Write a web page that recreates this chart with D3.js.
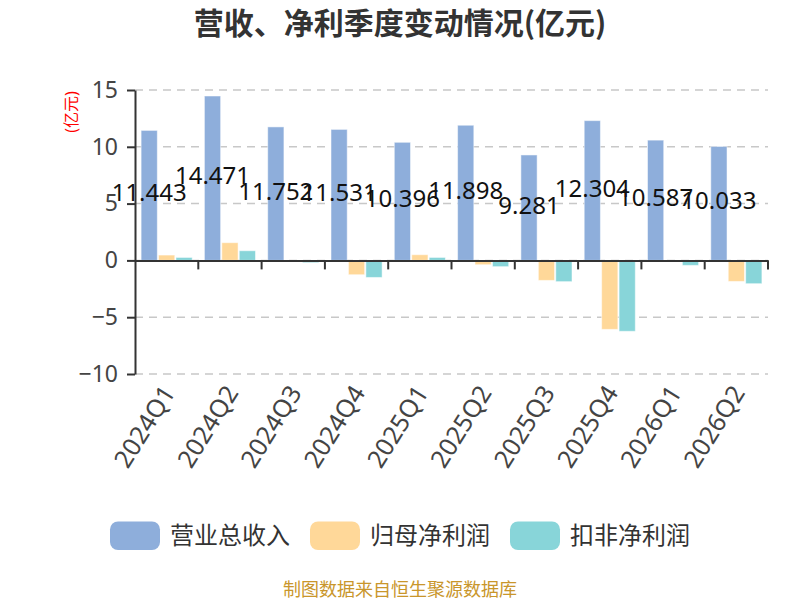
<!DOCTYPE html>
<html><head><meta charset="utf-8">
<script src="https://cdn.jsdelivr.net/npm/d3@7/dist/d3.min.js"></script>
<style>body{margin:0;background:#fff;}svg{display:block;font-family:"Noto Sans","Noto Sans CJK SC",sans-serif;}</style>
</head><body>
<svg id="c" width="800" height="600"></svg>
<script>
const categories = ["2024Q1","2024Q2","2024Q3","2024Q4","2025Q1","2025Q2","2025Q3","2025Q4","2026Q1","2026Q2"];
const seriesNames = ["营业总收入","归母净利润","扣非净利润"];
const revenue = [11.443,14.471,11.752,11.531,10.396,11.898,9.281,12.304,10.587,10.033];
const netProfit = [0.47,1.56,-0.05,-1.26,0.50,-0.38,-1.76,-6.07,-0.03,-1.85];
const deductedProfit = [0.26,0.85,-0.20,-1.50,0.26,-0.55,-1.87,-6.24,-0.44,-2.05];
const yTicks = [-10,-5,0,5,10,15];
const colors = ["#8eaedb","#ffd899","#88d5d9"];
const title = "营收、净利季度变动情况(亿元)";
const yName = "(亿元)";
const footer = "制图数据来自恒生聚源数据库";

const seriesData = [revenue, netProfit, deductedProfit];
const svg = d3.select("#c");
const pLeft = 135, pRight = 768, pTop = 90, pBottom = 374;

const x = d3.scaleBand().domain(categories).range([pLeft, pRight]).padding(0);
const xs = d3.scaleBand().domain(seriesNames).range([6.1, x.bandwidth() - 6.1]).paddingInner(0.07).paddingOuter(0);
const y = d3.scaleLinear().domain([-10, 15]).range([pBottom, pTop]);

// title
svg.append("text").attr("x", 400).attr("y", 34).attr("text-anchor", "middle")
  .attr("font-size", 30).attr("font-weight", "bold").attr("fill", "#333")
  .attr("font-family", "'Noto Sans CJK SC',sans-serif").text(title);

// grid
svg.append("g").selectAll("line").data(yTicks).join("line")
  .attr("x1", pLeft).attr("x2", pRight).attr("y1", d => y(d)).attr("y2", d => y(d))
  .attr("stroke", "#c8c8c8").attr("stroke-width", 1.5).attr("stroke-dasharray", "8,6");

// y axis
const yAxis = svg.append("g").attr("transform", `translate(${pLeft},0)`)
  .call(d3.axisLeft(y).tickValues(yTicks).tickSize(8).tickPadding(9).tickSizeOuter(0).tickFormat(d3.format("d")));
yAxis.select(".domain").attr("stroke", "#333").attr("stroke-width", 2);
yAxis.selectAll(".tick line").attr("stroke", "#333").attr("stroke-width", 2);
yAxis.selectAll(".tick text").attr("font-size", 23).attr("fill", "#444")
  .attr("font-family", "'Noto Sans',sans-serif");

// y name
svg.append("text").attr("transform", `translate(77,112) rotate(-90)`).attr("text-anchor", "middle")
  .attr("font-size", 16).attr("fill", "#ff0000").text(yName);

// bars
const g = svg.append("g");
seriesData.forEach((vals, si) => {
  g.append("g").selectAll("rect").data(vals).join("rect")
    .attr("x", (d, i) => x(categories[i]) + xs(seriesNames[si]))
    .attr("width", xs.bandwidth())
    .attr("y", d => y(Math.max(0, d)))
    .attr("height", d => Math.abs(y(d) - y(0)))
    .attr("fill", colors[si])
    .attr("stroke", "rgba(255,255,255,0.5)").attr("stroke-width", 1);
});

// x axis at zero
const xAxis = svg.append("g").attr("transform", `translate(0,${y(0)})`)
  .call(d3.axisBottom(x).tickSize(0).tickSizeOuter(0).tickFormat(""));
xAxis.select(".domain").attr("stroke", "#333").attr("stroke-width", 2);
xAxis.selectAll(".tick").remove();
const tickPos = categories.slice(1).map(c => x(c)).concat([pRight]);
svg.append("g").selectAll("line").data(tickPos).join("line")
  .attr("x1", d => d).attr("x2", d => d)
  .attr("y1", y(0)).attr("y2", y(0) + 9)
  .attr("stroke", "#333").attr("stroke-width", 2);

// x labels
svg.append("g").selectAll("text").data(categories).join("text")
  .attr("transform", d => `translate(${x(d) + x.bandwidth() / 2 + 2},${pBottom + 14}) rotate(-58)`)
  .attr("text-anchor", "end").attr("dy", "0.35em")
  .attr("font-size", 25).attr("fill", "#444").text(d => d);

// value labels on revenue
svg.append("g").selectAll("text").data(revenue).join("text")
  .attr("x", (d, i) => x(categories[i]) + xs(seriesNames[0]) + xs.bandwidth() / 2)
  .attr("y", d => y(d / 2) + 6)
  .attr("text-anchor", "middle").attr("font-size", 24).attr("fill", "#111")
  .text(d => d3.format(".3f")(d));

// legend
const legendX = [110, 310, 510];
const lg = svg.append("g");
seriesNames.forEach((n, i) => {
  lg.append("rect").attr("x", legendX[i]).attr("y", 521.5).attr("width", 50).attr("height", 28.5)
    .attr("rx", 8).attr("fill", colors[i]);
  lg.append("text").attr("x", legendX[i] + 60).attr("y", 544)
    .attr("font-size", 24).attr("fill", "#333")
    .attr("font-family", "'Noto Sans CJK SC',sans-serif").text(n);
});

// footer
svg.append("text").attr("x", 400).attr("y", 596).attr("text-anchor", "middle")
  .attr("font-size", 18).attr("fill", "#c9962b")
  .attr("font-family", "'Noto Sans CJK SC',sans-serif").text(footer);
</script>
</body></html>
